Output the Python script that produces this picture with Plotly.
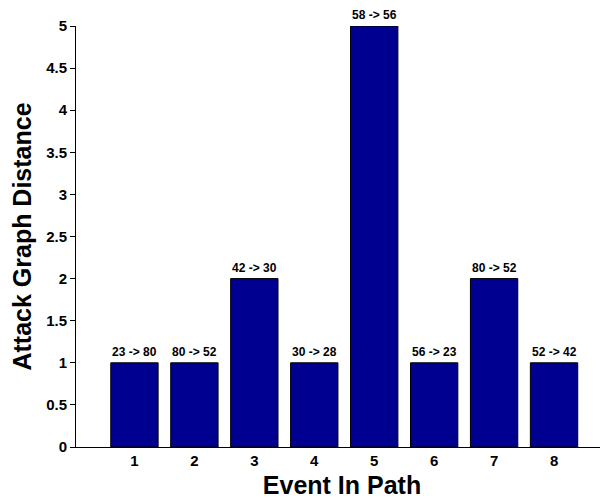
import plotly.graph_objects as go

events = [1, 2, 3, 4, 5, 6, 7, 8]
distances = [1, 1, 2, 1, 5, 1, 2, 1]
labels = ["23 -> 80", "80 -> 52", "42 -> 30", "30 -> 28", "58 -> 56", "56 -> 23", "80 -> 52", "52 -> 42"]
y_ticks = [0, 0.5, 1, 1.5, 2, 2.5, 3, 3.5, 4, 4.5, 5]

FONT = "Liberation Sans, Arial, sans-serif"

fig = go.Figure()
fig.add_trace(go.Bar(
    x=events, y=distances, width=0.79,
    marker=dict(color="#000090", line=dict(color="black", width=1)),
    showlegend=False,
))
for e, d, lab in zip(events, distances, labels):
    fig.add_annotation(x=e, y=d, text="<b>%s</b>" % lab, showarrow=False,
                       yanchor="bottom", yshift=3, borderpad=0,
                       font=dict(family=FONT, size=12, color="black"))

# page body has an 8px default margin, so the paper is shrunk by 8px
fig.update_layout(
    width=600, height=496,
    margin=dict(l=68, r=0, t=18, b=57),
    paper_bgcolor="white", plot_bgcolor="white",
    font=dict(family=FONT, color="black"),
    xaxis=dict(
        range=[0.025, 8.9], tickvals=events, ticktext=["<b>%d</b>" % e for e in events],
        showline=True, linecolor="black", linewidth=1, ticks="", showgrid=False,
        zeroline=False, tickfont=dict(size=15, family=FONT), automargin=False,
        title=dict(text="<b>Event In Path</b>", font=dict(size=25, family=FONT), standoff=8),
    ),
    yaxis=dict(
        range=[0, 5], tickvals=y_ticks, ticktext=["<b>%g</b>" % v for v in y_ticks],
        showline=True, linecolor="black", linewidth=1, ticks="outside", ticklen=5,
        tickcolor="black", showgrid=False, zeroline=False, automargin=False,
        tickfont=dict(size=15, family=FONT),
        title=dict(text="<b>Attack Graph Distance</b>", font=dict(size=25, family=FONT), standoff=9),
    ),
)
fig.write_html("out.html")
